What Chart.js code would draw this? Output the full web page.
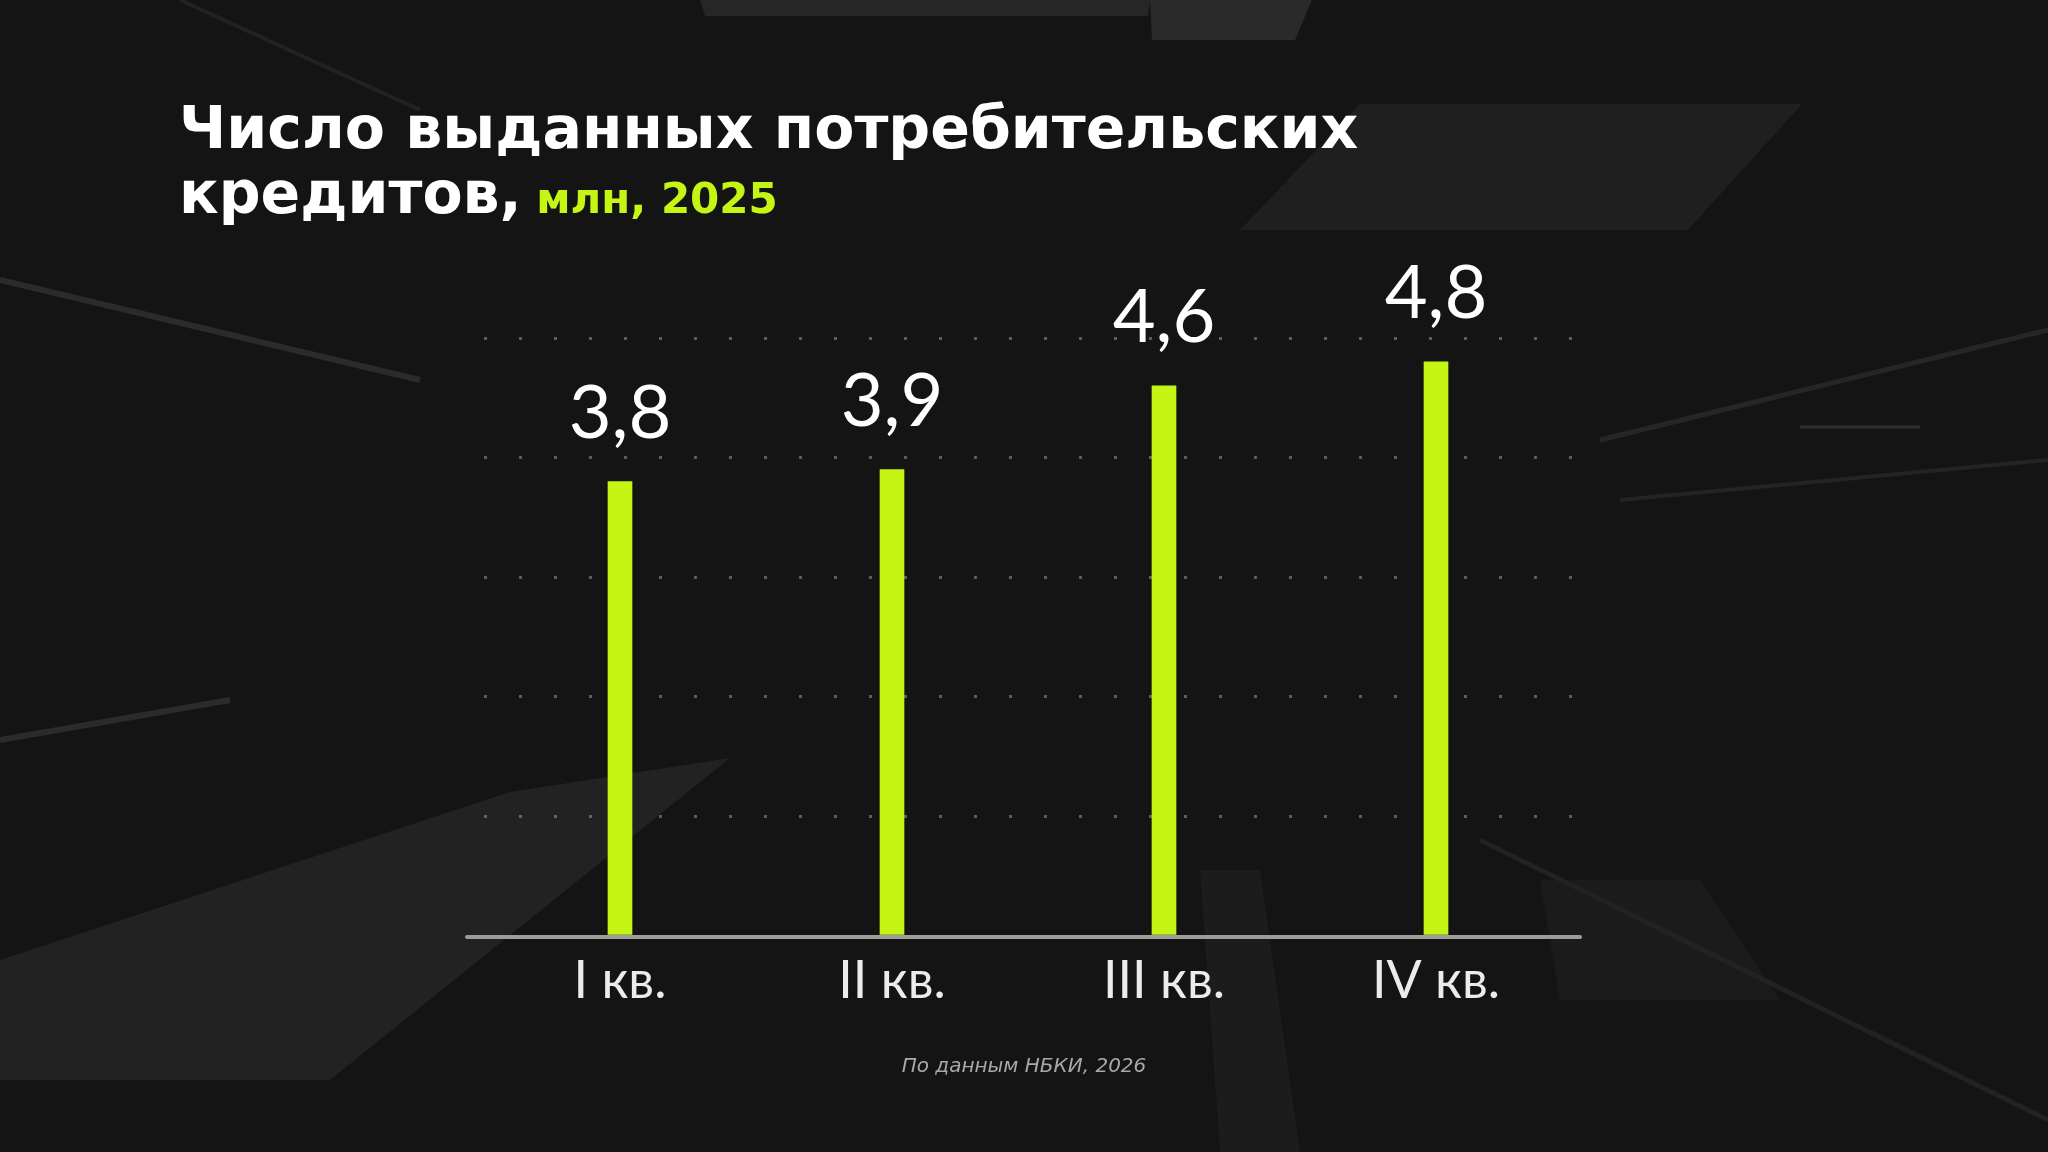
<!DOCTYPE html>
<html lang="ru">
<head>
<meta charset="utf-8">
<title>Число выданных потребительских кредитов</title>
<script src="https://cdn.jsdelivr.net/npm/chart.js@4/dist/chart.umd.min.js"></script>
<style>
  html, body {
    margin: 0;
    padding: 0;
    width: 2048px;
    height: 1152px;
    overflow: hidden;
    background: #141414;
  }
  #bg {
    position: absolute;
    left: 0;
    top: 0;
  }
  #chartBox {
    position: absolute;
    left: 0;
    top: 0;
    width: 2048px;
    height: 1152px;
  }
  .title {
    position: absolute;
    left: 179px;
    top: 96px;
    font-family: "DejaVu Sans", sans-serif;
    font-weight: bold;
    font-size: 58.5px;
    line-height: 65px;
    color: #ffffff;
    white-space: nowrap;
  }
  .title .accent {
    color: #c4f514;
    font-size: 42px;
    margin-left: -6px;
  }
  .source {
    position: absolute;
    left: 0;
    top: 1055px;
    width: 2048px;
    text-align: center;
    font-family: "DejaVu Sans", sans-serif;
    font-style: italic;
    font-size: 20px;
    line-height: 20px;
    color: #a8a8a8;
  }
</style>
</head>
<body>
<!-- фоновые полосы -->
<svg id="bg" width="2048" height="1152" viewBox="0 0 2048 1152">
  <polygon points="700,0 1150,0 1148,16 705,16" fill="#262626"/>
  <polygon points="1150,0 1312,0 1295,40 1152,40" fill="#2a2a2a"/>
  <polygon points="1360,104 1802,104 1688,230 1240,230" fill="#1f1f1f"/>
  <polygon points="510,792 730,758 330,1080 0,1080 0,960" fill="#222222"/>
  <polygon points="1200,870 1260,870 1300,1152 1220,1152" fill="#1c1c1c"/>
  <polygon points="1540,880 1700,880 1780,1000 1560,1000" fill="#1b1b1b"/>
  <line x1="0" y1="280" x2="420" y2="380" stroke="#2b2b2b" stroke-width="6"/>
  <line x1="0" y1="740" x2="230" y2="700" stroke="#2b2b2b" stroke-width="6"/>
  <line x1="1600" y1="440" x2="2048" y2="330" stroke="#262626" stroke-width="5"/>
  <line x1="1620" y1="500" x2="2048" y2="460" stroke="#242424" stroke-width="4"/>
  <line x1="1800" y1="427" x2="1920" y2="427" stroke="#2e2e2e" stroke-width="3"/>
  <line x1="1480" y1="840" x2="2048" y2="1120" stroke="#222222" stroke-width="5"/>
  <line x1="180" y1="0" x2="420" y2="110" stroke="#222222" stroke-width="4"/>
</svg>

<div id="chartBox"><canvas id="creditChart" width="2048" height="1152"></canvas></div>

<div class="title">Число выданных потребительских<br>кредитов, <span class="accent">млн, 2025</span></div>
<div class="source">По данным НБКИ, 2026</div>

<script>
const quarters = ['I кв.', 'II кв.', 'III кв.', 'IV кв.'];
const loansIssued = [3.8, 3.9, 4.6, 4.8];
const yTicks = [0, 1, 2, 3, 4, 5];

const limeColor = '#c4f514';

// подписи значений над столбиками (с запятой)
const valueLabels = {
  id: 'valueLabels',
  afterDatasetsDraw(chart) {
    const ctx = chart.ctx;
    const meta = chart.getDatasetMeta(0);
    ctx.save();
    ctx.fillStyle = '#ffffff';
    ctx.font = '400 74px Lato, sans-serif';
    ctx.textAlign = 'center';
    ctx.textBaseline = 'alphabetic';
    meta.data.forEach((bar, i) => {
      const txt = loansIssued[i].toFixed(1).replace('.', ',');
      ctx.fillText(txt, bar.x, bar.y - 44);
    });
    ctx.restore();
  }
};

// ось X чуть шире области графика
const baseLine = {
  id: 'baseLine',
  afterDatasetsDraw(chart) {
    const ctx = chart.ctx;
    const y = chart.scales.y.getPixelForValue(0);
    ctx.save();
    ctx.strokeStyle = '#9c9c9c';
    ctx.lineWidth = 4;
    ctx.lineCap = 'round';
    ctx.beginPath();
    ctx.moveTo(chart.chartArea.left - 17, y + 1);
    ctx.lineTo(chart.chartArea.right + 8, y + 1);
    ctx.stroke();
    ctx.restore();
  }
};

(() => {
  const ctx = document.getElementById('creditChart').getContext('2d');
  new Chart(ctx, {
    type: 'bar',
    data: {
      labels: quarters,
      datasets: [{
        data: loansIssued,
        backgroundColor: limeColor,
        borderWidth: 0,
        barThickness: 24
      }]
    },
    options: {
      responsive: false,
      animation: false,
      devicePixelRatio: 1,
      layout: {
        padding: { left: 484, right: 476, top: 338, bottom: 116 }
      },
      plugins: {
        legend: { display: false },
        tooltip: { enabled: false }
      },
      scales: {
        x: {
          grid: { display: false, drawTicks: false },
          border: { display: false },
          ticks: {
            color: '#ececec',
            padding: 14,
            font: { family: 'Lato, sans-serif', size: 52, weight: '400' }
          },
          afterFit: (axis) => { axis.height = 100; }
        },
        y: {
          min: yTicks[0],
          max: yTicks[yTicks.length - 1],
          afterBuildTicks: (axis) => { axis.ticks = yTicks.map(v => ({ value: v })); },
          ticks: { display: false },
          border: { display: false, dash: [3, 32] },
          grid: {
            drawTicks: false,
            lineWidth: 3,
            color: (c) => c.tick && c.tick.value === 0 ? 'rgba(0,0,0,0)' : 'rgba(200,200,200,0.4)'
          },
          afterFit: (axis) => { axis.width = 0; }
        }
      }
    },
    plugins: [valueLabels, baseLine]
  });
})();
</script>
</body>
</html>
